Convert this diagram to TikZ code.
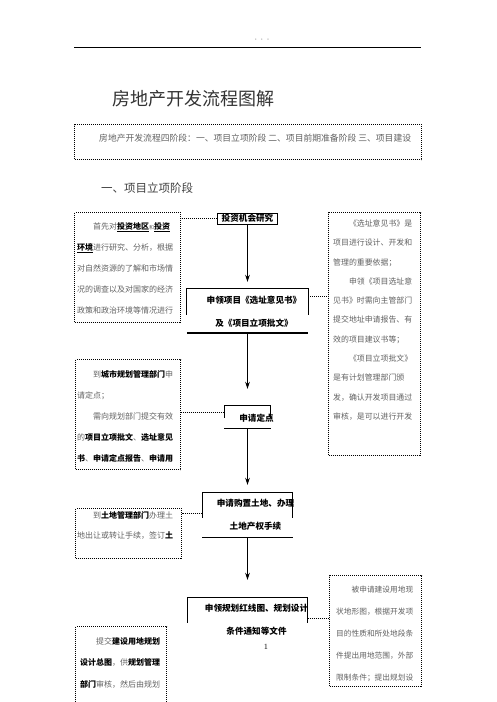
\documentclass[tikz,border=0pt]{standalone}
\usepackage{fontspec}
\usetikzlibrary{arrows.meta}
\newfontfamily\cjk{Noto Sans CJK SC}
\colorlet{notegray}{black!62}
\newcommand{\hl}[1]{{\color{black}\bfseries #1}}

\tikzset{
	memo/.style={draw, line width=1.1pt, dash pattern=on 1pt off 1pt, inner sep=0pt, anchor=north west},
	link/.style={line width=0.7pt, dash pattern=on 0.9pt off 1.1pt},
	flow/.style={-{Stealth[length=7pt,width=4.6pt]}, line width=0.9pt},
	stepbox/.style={inner sep=0pt},
	stepframe/.style={line width=1pt},
	steptext/.style={font=\cjk\bfseries\fontsize{8.6pt}{23pt}\selectfont, align=center, inner sep=0pt},
	memotext/.style={align=left, inner sep=0pt, anchor=north west, text=notegray},
}

\begin{document}
\begin{tikzpicture}[x=1pt,y=-1pt]
	\useasboundingbox (0,0) rectangle (496,702);
	\clip (0,0) rectangle (496,702);

	% header
	\draw [line width=0.8pt] (74,47) -- (421,47);
	\node [font=\cjk\fontsize{5pt}{5pt}\selectfont, text=black!50] (hdots) at (262,40) {· · ·};
	\node [anchor=west, inner sep=0pt, font=\cjk\fontsize{18pt}{20pt}\selectfont, text=black!80] (title) at (112,99) {房地产开发流程图解};

	% four stages
	\node [memo, minimum width=347pt, minimum height=35pt] (intro) at (74,124) {};
	\node [anchor=west, inner sep=0pt, font=\cjk\fontsize{8.8pt}{10pt}\selectfont, text=notegray] (introtxt) at (99,138.5) {房地产开发流程四阶段：一、项目立项阶段 二、项目前期准备阶段 三、项目建设};
	\node [anchor=west, inner sep=0pt, font=\cjk\fontsize{11.5pt}{13pt}\selectfont, text=black!75] (phase1) at (101,188) {一、项目立项阶段};

	% steps
	\node [stepbox, draw, line width=0.8pt, minimum width=60pt, minimum height=11pt, font=\cjk\bfseries\fontsize{8.6pt}{10pt}\selectfont] (step1) at (247.5,218.5) {投资机会研究};

	\node [stepbox, minimum width=121pt, minimum height=44pt] (step2) at (247.5,311) {};
	\node [steptext] (step2txt) at (254,311.5) {申领项目《选址意见书》\\及《项目立项批文》};
	\draw [stepframe] ([yshift=-26pt]step2.north west) -- (step2.north west) -- (step2.north east) -- ([yshift=-26pt]step2.north east);
	\draw [line width=2.2pt] (step2.south west) -- (step2.south east);

	\node [stepbox, minimum width=46pt, minimum height=22pt] (step3) at (247.5,417) {};
	\node [steptext] (step3txt) at (256.5,418) {申请定点};
	\draw [stepframe] ([yshift=-12pt]step3.north west) -- (step3.north west) -- (step3.north east) -- ([yshift=-12pt]step3.north east);
	\draw [stepframe] (step3.south west) -- (step3.south east);

	\node [stepbox, minimum width=90pt, minimum height=44pt] (step4) at (247.5,515) {};
	\node [steptext] (step4txt) at (255.5,514.5) {申请购置土地、办理\\土地产权手续};
	\draw [stepframe] ([yshift=-25pt]step4.north west) -- (step4.north west) -- (step4.north east) -- ([yshift=-25pt]step4.north east);
	\draw [line width=1.2pt] (step4.south west) -- (step4.south east);

	\node [stepbox, minimum width=120pt, minimum height=44pt] (step5) at (247.5,620) {};
	\node [steptext] (step5txt) at (256.5,619.5) {申领规划红线图、规划设计\\条件通知等文件};
	\draw [stepframe] ([yshift=-25pt]step5.north west) -- (step5.north west) -- (step5.north east) -- ([yshift=-25pt]step5.north east);

	% arrows
	\draw [flow, shorten >=7pt] (step1.south) -- (step2.north);
	\draw [flow, shorten >=17pt] (step2.south) -- (step3.north);
	\draw [flow, shorten >=8pt] (step3.south) -- (step4.north);
	\draw [flow, shorten >=18pt] (step4.south) -- (step5.north);

	% notes left
	\node [memo, minimum width=106pt, minimum height=110pt] (memo1) at (74,212) {};
	\node [memotext, font=\cjk\fontsize{8pt}{21pt}\selectfont] (memo1txt) at (77,222) {\hspace*{2em}首先对\hl{\underline{投资地区}}{\fontsize{5pt}{6pt}\selectfont 和}\hl{\underline{投资}}\\
		\hl{\underline{环境}}进行研究、分析，根据\\
		对自然资源的了解和市场情\\
		况的调查以及对国家的经济\\
		政策和政治环境等情况进行};

	\node [memo, minimum width=105pt, minimum height=110pt] (memo3) at (75,359) {};
	\node [memotext, font=\cjk\fontsize{8pt}{21pt}\selectfont] (memo3txt) at (77,370) {\hspace*{2em}到\hl{城市规划管理部门}申\\
		请定点；\\
		\hspace*{2em}需向规划部门提交有效\\
		的\hl{项目立项批文}、\hl{选址意见}\\
		\hl{书}、\hl{申请定点报告}、\hl{申请用}};

	\node [memo, minimum width=106pt, minimum height=50pt] (memo4) at (75,508) {};
	\node [memotext, font=\cjk\fontsize{8pt}{20pt}\selectfont] (memo4txt) at (77,511) {\hspace*{2em}到\hl{土地管理部门}办理土\\
		地出让或转让手续，签订\hl{土}};

	\node [memo, minimum width=91pt, minimum height=100pt] (memo6) at (75,626) {};
	\node [memotext, font=\cjk\fontsize{8pt}{21.5pt}\selectfont] (memo6txt) at (80,637) {\hspace*{2em}提交\hl{建设用地规划}\\
		\hl{设计总图}，供\hl{规划管理}\\
		\hl{部门}审核，然后由规划};

	% notes right
	\node [memo, minimum width=92pt, minimum height=243pt] (memo2) at (328,212) {};
	\node [memotext, font=\cjk\fontsize{7.9pt}{19.3pt}\selectfont] (memo2txt) at (333,219.5) {\hspace*{2em}《选址意见书》是\\
		项目进行设计、开发和\\
		管理的重要依据；\\
		\hspace*{2em}申领《项目选址意\\
		见书》时需向主管部门\\
		提交地址申请报告、有\\
		效的项目建议书等；\\
		\hspace*{2em}《项目立项批文》\\
		是有计划管理部门颁\\
		发，确认开发项目通过\\
		审核，是可以进行开发};

	\node [memo, minimum width=92pt, minimum height=111pt] (memo5) at (329,575) {};
	\node [memotext, font=\cjk\fontsize{7.7pt}{22pt}\selectfont] (memo5txt) at (336,585.5) {\hspace*{2em}被申请建设用地现\\
		状地形图，根据开发项\\
		目的性质和所处地段条\\
		件提出用地范围，外部\\
		限制条件；提出规划设};

	% dotted links
	\draw [link] (step1.west) -- (step1.west -| memo1.east);
	\coordinate (lk2) at ([yshift=-8pt]step2.north east);
	\draw [link] (lk2) -- (lk2 -| memo2.west);
	\coordinate (lk3) at ([yshift=-7pt]step3.north west);
	\draw [link] (lk3) -- (lk3 -| memo3.east);
	\coordinate (lk4) at ([yshift=-21pt]step4.north west);
	\draw [link] (lk4) -- (lk4 -| memo4.east);
	\coordinate (lk5) at ([yshift=-21pt]step5.north east);
	\draw [link] (lk5) -- (lk5 -| memo5.west);

	% page number
	\node [font=\fontsize{8pt}{9pt}\selectfont] (pageno) at (266,647) {1};
\end{tikzpicture}
\end{document}
